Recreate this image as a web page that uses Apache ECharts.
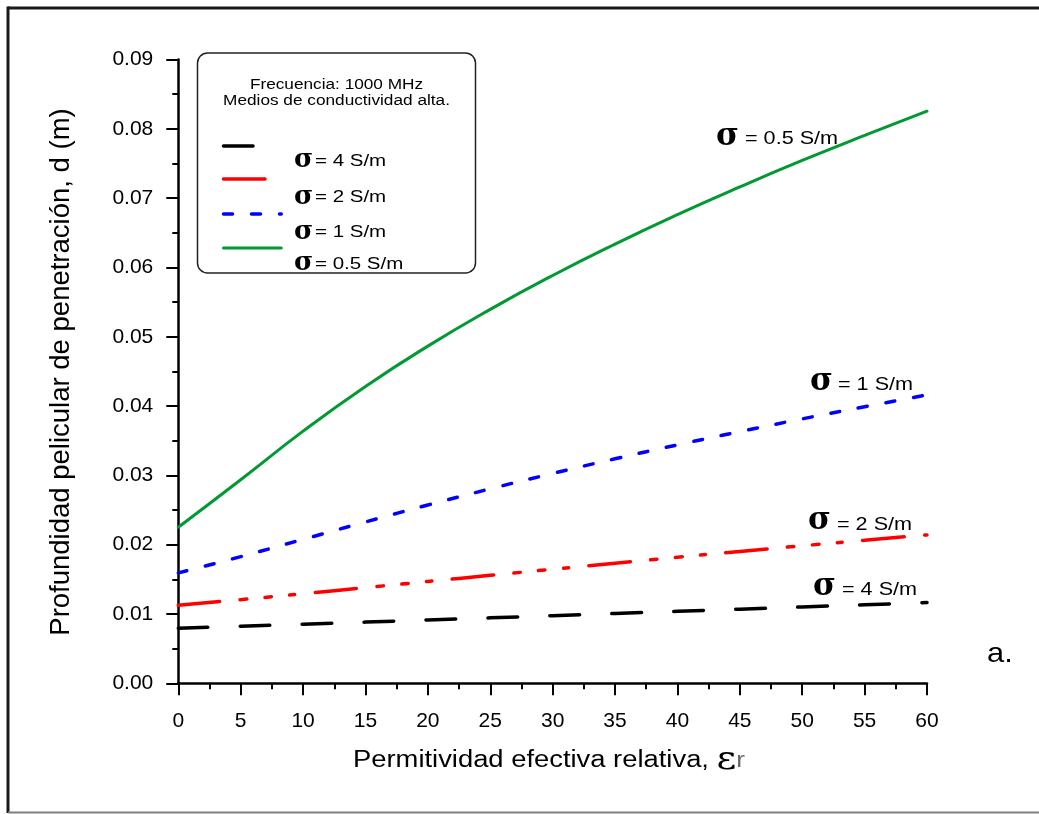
<!DOCTYPE html>
<html>
<head>
<meta charset="utf-8">
<script src="https://cdn.jsdelivr.net/npm/echarts@6/dist/echarts.min.js"></script>
<style>
html,body{margin:0;padding:0;background:#ffffff;}
#c{width:1039px;height:814px;}
</style>
</head>
<body>
<div id="c"></div>
<script>
// ---- data ----
const permittivity = [0, 5, 10, 15, 20, 25, 30, 35, 40, 45, 50, 55, 60];
const depthSigma4  = [0.00796, 0.00824, 0.00853, 0.00883, 0.00914, 0.00944, 0.00976, 0.01007, 0.01039, 0.01070, 0.01102, 0.01133, 0.01164];
const depthSigma2  = [0.01126, 0.01207, 0.01292, 0.01380, 0.01469, 0.01558, 0.01646, 0.01733, 0.01819, 0.01903, 0.01984, 0.02064, 0.02141];
const depthSigma1  = [0.01593, 0.01827, 0.02077, 0.02328, 0.02572, 0.02806, 0.03028, 0.03239, 0.03440, 0.03631, 0.03815, 0.03990, 0.04160];
const depthSigma05 = [0.02252, 0.02937, 0.03638, 0.04283, 0.04865, 0.05395, 0.05884, 0.06337, 0.06762, 0.07162, 0.07543, 0.07904, 0.08254];
const sigmaLabels  = ['= 4 S/m', '= 2 S/m', '= 1 S/m', '= 0.5 S/m'];
const legendTitle  = ['Frecuencia: 1000 MHz', 'Medios de conductividad alta.'];
const xTitle = 'Permitividad efectiva relativa, ';
const yTitle = 'Profundidad pelicular de penetración, d (m)';

// ---- styles ----
const SANS = '"Liberation Sans", Arial, sans-serif';
const SERIF = '"DejaVu Serif", serif';
const colors = ['#000000', '#ff0000', '#0000ff', '#009933'];
const dashes = [[29.5, 32.5], [41.5, 20.5, 6.5, 18.5, 6.5, 18.5, 5, 20.5], [9, 19], 'solid'];
const widths = [3.5, 3.5, 3.5, 3];
const allDepths = [depthSigma4, depthSigma2, depthSigma1, depthSigma05];

const series = allDepths.map((d, i) => ({
  name: 'σ ' + sigmaLabels[i],
  type: 'line',
  data: permittivity.map((x, j) => [x, d[j]]),
  showSymbol: false,
  smooth: true,
  lineStyle: { color: colors[i], width: widths[i], type: dashes[i], cap: 'round' },
  z: 3
}));

const G = [];
// outer frame
G.push({type:'line', shape:{x1:8, y1:8, x2:1039, y2:8}, style:{stroke:'#1a1a1a', lineWidth:3}});
G.push({type:'line', shape:{x1:8, y1:6.5, x2:8, y2:813}, style:{stroke:'#1a1a1a', lineWidth:3}});
G.push({type:'line', shape:{x1:8, y1:812.5, x2:1039, y2:812.5}, style:{stroke:'#808080', lineWidth:2}});

// legend box
G.push({type:'rect', shape:{x:197.5, y:53, width:278, height:220, r:10}, style:{fill:'#ffffff', stroke:'#222222', lineWidth:1.5}, z:5});
G.push({type:'text', x:336.5, y:85, scaleX:1.23, z:6, style:{text:legendTitle[0], fontFamily:SANS, fontSize:14, fill:'#000', align:'center', verticalAlign:'middle'}});
G.push({type:'text', x:336.5, y:101, scaleX:1.23, z:6, style:{text:legendTitle[1], fontFamily:SANS, fontSize:14, fill:'#000', align:'center', verticalAlign:'middle'}});
const legLineY = [146, 179, 214, 248];
const legLineEnd = [255, 268, 283, 283];
const legLabY = [160.5, 197, 232, 263.5];
for (let i = 0; i < 4; i++) {
  const d = dashes[i];
  G.push({type:'line', z:6, shape:{x1:223.5, y1:legLineY[i], x2:legLineEnd[i]-1.75, y2:legLineY[i]},
    style:{stroke:colors[i], lineWidth:widths[i], lineDash: Array.isArray(d) ? d : null, lineCap:'round'}});
  G.push({type:'text', x:294, y:legLabY[i], z:6, style:{text:'σ', fontFamily:SERIF, fontSize:26, fontWeight:'bold', fill:'#000', align:'left', verticalAlign:'middle'}});
  G.push({type:'text', x:315, y:legLabY[i]+1, scaleX:1.28, z:6, style:{text:sigmaLabels[i], fontFamily:SANS, fontSize:16, fill:'#000', align:'left', verticalAlign:'middle'}});
}

// curve labels
const curveLab = [
  {sx:813, sy:586.5, tx:842, ty:590},   // 4 S/m
  {sx:808, sy:521,   tx:837, ty:525},   // 2 S/m
  {sx:810, sy:382,   tx:838, ty:385},   // 1 S/m
  {sx:716, sy:136.5, tx:745, ty:139.5}  // 0.5 S/m
];
curveLab.forEach((c, i) => {
  G.push({type:'text', x:c.sx, y:c.sy, z:7, style:{text:'σ', fontFamily:SERIF, fontSize:31, fontWeight:'bold', fill:'#000', align:'left', verticalAlign:'middle'}});
  G.push({type:'text', x:c.tx, y:c.ty, scaleX:1.2, z:7, style:{text:sigmaLabels[i], fontFamily:SANS, fontSize:18, fill:'#000', align:'left', verticalAlign:'middle'}});
});

// panel tag
G.push({type:'text', x:987, y:654, scaleX:1.1, style:{text:'a.', fontFamily:SANS, fontSize:28, fill:'#000', align:'left', verticalAlign:'middle'}});

// axis titles
G.push({type:'text', x:353, y:761, scaleX:1.19, style:{
  text:'{m|' + xTitle + '}{e|ε}{r|r}', fontFamily:SANS, fontSize:23, fill:'#000', align:'left', verticalAlign:'middle',
  rich:{ m:{fontFamily:SANS, fontSize:23, fill:'#000'}, e:{fontFamily:SERIF, fontSize:32, fill:'#000'}, r:{fontFamily:SANS, fontSize:22, fill:'#666'} }
}});
G.push({type:'text', x:61, y:372, rotation:Math.PI/2, style:{text:yTitle, fontFamily:SANS, fontSize:27.5, fill:'#000', align:'center', verticalAlign:'middle'}});

const option = {
  animation: false,
  backgroundColor: '#ffffff',
  grid: { left: 178.3, right: 112, top: 59.5, bottom: 130.7, containLabel: false },
  xAxis: {
    type: 'value', min: 0, max: 60, interval: 5,
    axisLine: { show: true, onZero: false, lineStyle: { color: '#000', width: 2.5 } },
    axisTick: { show: true, inside: false, length: 12, lineStyle: { color: '#000', width: 2 } },
    minorTick: { show: true, splitNumber: 2, length: 6, lineStyle: { color: '#000', width: 2 } },
    axisLabel: { margin: 27, fontFamily: SANS, fontSize: 21, color: '#000' },
    splitLine: { show: false }, minorSplitLine: { show: false }
  },
  yAxis: {
    type: 'value', min: 0, max: 0.09, interval: 0.01,
    axisLine: { show: true, onZero: false, lineStyle: { color: '#000', width: 2.5 } },
    axisTick: { show: true, inside: false, length: 12, lineStyle: { color: '#000', width: 2 } },
    minorTick: { show: true, splitNumber: 2, length: 6, lineStyle: { color: '#000', width: 2 } },
    axisLabel: { margin: 25, fontFamily: SANS, fontSize: 21, color: '#000', formatter: v => v.toFixed(2) },
    splitLine: { show: false }, minorSplitLine: { show: false }
  },
  graphic: { elements: G },
  series: series
};
const chart = echarts.init(document.getElementById('c'), null, { renderer: 'canvas' });
chart.setOption(option);
</script>
</body>
</html>
